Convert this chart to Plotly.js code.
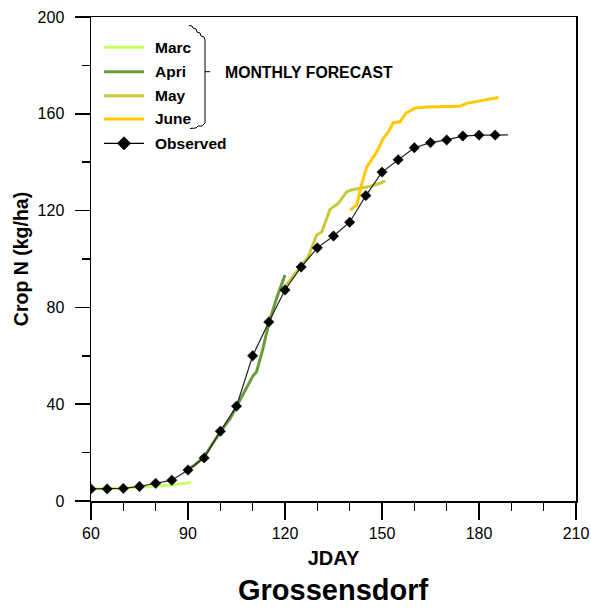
<!DOCTYPE html>
<html>
<head>
<meta charset="utf-8">
<script src="https://cdn.plot.ly/plotly-3.0.1.min.js"></script>
<style>html,body{margin:0;padding:0;background:#fff;}#chart{width:591px;height:609px;}</style>
</head>
<body>
<div id="chart"></div>
<script>
// ---- data ----
const obsDay = [60,65,70,75,80,85,90,95,100,105,110,115,120,125,130,135,140,145,150,155,160,165,170,175,180,185,189];
const obsN   = [5,5,5.2,6,7.3,8.6,12.8,17.8,28.8,39.2,60,74,87.2,96.7,104.6,109.5,115.2,126.2,135.9,141,146,148.1,149.2,150.8,151.2,151.2,151.3];

const marDay = [60,65,70,75,80,85,91];
const marN   = [5,5.1,5.4,5.7,6.1,6.6,7.7];

const aprDay = [89.6,92,95,98,100,103,105,108,110,111.2,113,115,117.4,120];
const aprN   = [12.8,14.8,18.3,24.5,28.6,34,39,46.5,51.5,53.4,62,73.4,83.8,93.4];

const mayDay = [120,121.6,124,127.2,129.8,131.4,133.9,136.5,139.1,140.5,143.2,146.3,149.4,151];
const mayN   = [88.6,91.3,95.5,101,109.9,111.3,120.5,123,127.8,128.5,129.2,130,131.3,132.3];

const junDay = [140.1,142.2,143.5,145.3,148.4,150.4,152,153.5,155.6,157.4,160.2,164,174,176.2,186];
const junN   = [120.2,122.3,130,138.1,144.3,149.9,152.6,156.3,156.7,160.3,162.4,162.8,163.1,164.3,166.7];

const legendLabels = ["Marc","Apri","May","June","Observed"];
const bracketLabel = "MONTHLY FORECAST";
const siteLabel = "Grossensdorf";

// ---- style ----
const colMar = "#ccff66", colApr = "#6a9a3c", colMay = "#c9c93c", colJun = "#ffc800";
const FONT = "Liberation Sans, Arial, sans-serif";

const traces = [
  {x: marDay, y: marN, mode: "lines", line: {color: colMar, width: 3}, hoverinfo: "skip"},
  {x: aprDay, y: aprN, mode: "lines", line: {color: colApr, width: 3}, hoverinfo: "skip"},
  {x: mayDay, y: mayN, mode: "lines", line: {color: colMay, width: 3}, hoverinfo: "skip"},
  {x: junDay, y: junN, mode: "lines", line: {color: colJun, width: 3}, hoverinfo: "skip"},
  {x: obsDay, y: obsN, mode: "lines", line: {color: "#222", width: 1.2}, hoverinfo: "skip"},
  {x: obsDay.slice(0, -1), y: obsN.slice(0, -1), mode: "markers",
   marker: {symbol: "diamond", color: "black", opacity: 1, size: 8, line: {color: "black", width: 0.5}},
   hoverinfo: "skip"}
];

// plot area in pixels
const L = 91, R = 576, T = 17, B = 501;
const px = v => (v - L) / (R - L);
const py = v => (B - v) / (B - T);

const shapes = [];
const annotations = [];
const legendY = [47.3, 71.7, 95.7, 119, 143.3];
const legendCols = [colMar, colApr, colMay, colJun, "#000"];
legendY.forEach((yy, i) => {
  shapes.push({type: "line", xref: "paper", yref: "paper",
    x0: px(104), x1: px(144), y0: py(yy), y1: py(yy),
    line: {color: legendCols[i], width: i === 4 ? 1.2 : 3}});
  annotations.push({xref: "paper", yref: "paper", x: px(153), y: py(yy),
    xanchor: "left", yanchor: "middle", showarrow: false, text: legendLabels[i],
    font: {family: FONT, size: 15.5, color: "#000", weight: "bold"}});
});
// legend diamond
const dx = 124, dy = 143.3, dr = 6.5;
shapes.push({type: "path", xref: "paper", yref: "paper",
  path: `M${px(dx)},${py(dy - dr)} L${px(dx + dr)},${py(dy)} L${px(dx)},${py(dy + dr)} L${px(dx - dr)},${py(dy)} Z`,
  fillcolor: "#000", line: {color: "#000", width: 1}});

// bracket "}"
const br = [[189,25.5],[192,26],[193,28],[196,29],[197,32],[200,33],[201,36],[204,37],[205,40],
            [205,123],[202,126],[198,126],[196,128],[190,128.5]];
shapes.push({type: "path", xref: "paper", yref: "paper",
  path: br.map((p, i) => (i ? "L" : "M") + px(p[0]) + "," + py(p[1])).join(" "),
  line: {color: "#000", width: 1}});
shapes.push({type: "line", xref: "paper", yref: "paper",
  x0: px(205), x1: px(210), y0: py(71.7), y1: py(71.7), line: {color: "#000", width: 1}});

annotations.push({xref: "paper", yref: "paper", x: px(223), y: py(72),
  xanchor: "left", yanchor: "middle", showarrow: false, text: bracketLabel,
  font: {family: FONT, size: 15.8, color: "#000", weight: "bold"}});

annotations.push({xref: "paper", yref: "paper", x: 0.5, y: py(590),
  xanchor: "center", yanchor: "middle", showarrow: false, text: siteLabel,
  font: {family: FONT, size: 29, color: "#000", weight: "bold"}});

const layout = {
  width: 591, height: 609,
  margin: {l: L, r: 591 - R, t: T, b: 609 - B},
  paper_bgcolor: "#fff", plot_bgcolor: "#fff",
  showlegend: false,
  font: {family: FONT, color: "#000"},
  xaxis: {
    range: [60, 210], dtick: 30, tick0: 60, showgrid: false, zeroline: false,
    ticks: "outside", ticklen: 17, tickwidth: 1.5, tickcolor: "#000",
    minor: {dtick: 10, tick0: 60, ticks: "outside", ticklen: 8, tickwidth: 1.5, tickcolor: "#000", showgrid: false},
    showline: true, linecolor: "#000", linewidth: 1.5, mirror: true,
    tickfont: {size: 16, family: FONT},
    title: {text: "JDAY", standoff: 10, font: {size: 20, weight: "bold", family: FONT}}
  },
  yaxis: {
    range: [0, 200], dtick: 40, tick0: 0, showgrid: false, zeroline: false,
    ticks: "outside", ticklen: 15, tickwidth: 1.5, tickcolor: "#000",
    minor: {dtick: 20, tick0: 0, ticks: "outside", ticklen: 8, tickwidth: 1.5, tickcolor: "#000", showgrid: false},
    showline: true, linecolor: "#000", linewidth: 1.5, mirror: true,
    ticklabelstandoff: 7,
    tickfont: {size: 16, family: FONT},
    title: {text: "Crop N (kg/ha)", standoff: 4, font: {size: 19.5, weight: "bold", family: FONT}}
  },
  shapes: shapes,
  annotations: annotations
};

Plotly.newPlot("chart", traces, layout, {staticPlot: true, displayModeBar: false});
</script>
</body>
</html>
